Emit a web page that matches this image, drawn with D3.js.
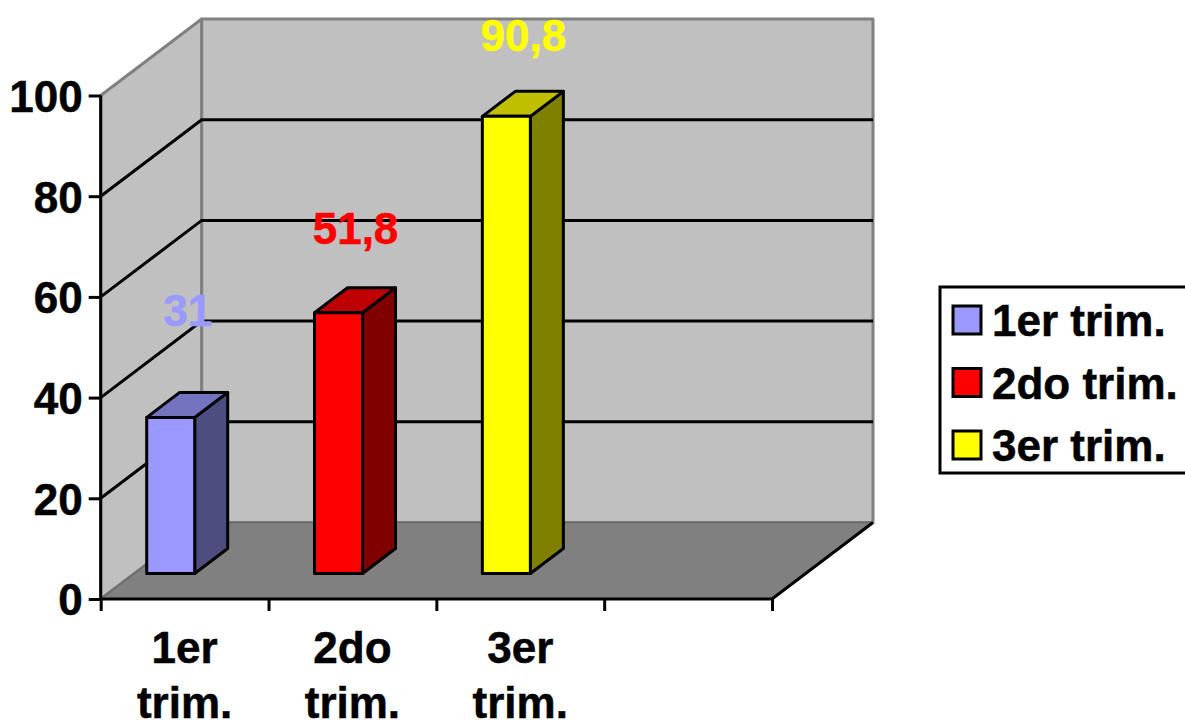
<!DOCTYPE html>
<html>
<head>
<meta charset="utf-8">
<script src="https://cdn.jsdelivr.net/npm/d3@7"></script>
<style>
  html, body { margin: 0; padding: 0; background: #fff; overflow: hidden; }
  text { font-family: "Liberation Sans", Arial, sans-serif; font-weight: bold; font-size: 44px; stroke-width: 0.5px; }
  .axis path { display: none; }
  .axis line { stroke: #000; stroke-width: 3px; }
</style>
</head>
<body>
<svg id="chart" width="1185" height="722"></svg>
<script>
// data
var categories = ['1er trim.', '2do trim.', '3er trim.'];
var values = [31, 51.8, 90.8];
var valueLabels = ['31', '51,8', '90,8'];
var yTicks = [0, 20, 40, 60, 80, 100];

var colors = ['#9999ff', '#ff0000', '#ffff00'];
var topColors = ['#7373bf', '#bf0000', '#bfbf00'];
var sideColors = ['#4d4d80', '#800000', '#808000'];

// how far each value label sits above its bar, label placement only
var labelLift = [91, 69, 65];

// window.top is read-only, so no bare "top" here
var plotLeft = 100.7, plotRight = 772, plotBottom = 599, plotTop = 95.5;
var depthX = 101, depthY = -76.5;     // wall depth
var barDepthX = 33, barDepthY = -25;  // bar depth
var barBase = 25.5;                   // bars stand this far back on the floor

var svg = d3.select('#chart');

var y = d3.scaleLinear().domain([0, 100]).range([plotBottom, plotTop]);
var xEdge = d3.scaleLinear().domain([0, 4]).range([plotLeft, plotRight]);
var x = d3.scaleBand().domain(d3.range(4)).range([plotLeft, plotRight]).paddingInner(0).paddingOuter(0);

function poly(points, fill, stroke, width) {
  return svg.append('polygon')
    .attr('points', points.map(function(p) { return p.join(','); }).join(' '))
    .attr('fill', fill)
    .attr('stroke', stroke || 'none')
    .attr('stroke-width', width || 0)
    .attr('stroke-linejoin', 'round');
}

// walls and floor
poly([[plotLeft, y(0)], [plotLeft + depthX, y(0) + depthY], [plotLeft + depthX, y(100) + depthY], [plotLeft, y(100)]], '#c0c0c0', '#808080', 3);
poly([[plotLeft + depthX, y(0) + depthY], [plotRight + depthX, y(0) + depthY], [plotRight + depthX, y(100) + depthY], [plotLeft + depthX, y(100) + depthY]], '#c0c0c0', '#808080', 3);
poly([[plotLeft, y(0)], [plotRight, y(0)], [plotRight + depthX, y(0) + depthY], [plotLeft + depthX, y(0) + depthY]], '#808080', '#6e6e6e', 2);

// gridlines on both walls
var grid = svg.append('g').attr('fill', 'none').attr('stroke', '#000').attr('stroke-width', 3);
yTicks.filter(function(d) { return d > 0 && d < 100; }).forEach(function(d) {
  grid.append('polyline').attr('points', [
    [plotLeft, y(d)], [plotLeft + depthX, y(d) + depthY], [plotRight + depthX, y(d) + depthY]
  ].join(' '));
});

// bars
values.forEach(function(v, i) {
  var x0 = x(i) + 46, x1 = x0 + 48;
  var y0 = y(0) - barBase, y1 = y(v) - barBase;
  var dx = barDepthX, dy = barDepthY;
  poly([[x1, y0], [x1 + dx, y0 + dy], [x1 + dx, y1 + dy], [x1, y1]], sideColors[i], '#000', 3);
  poly([[x0, y1], [x1, y1], [x1 + dx, y1 + dy], [x0 + dx, y1 + dy]], topColors[i], '#000', 3);
  poly([[x0, y0], [x1, y0], [x1, y1], [x0, y1]], colors[i], '#000', 3);
  svg.append('text')
    .attr('x', x0 + 41)
    .attr('y', y1 - labelLift[i])
    .attr('text-anchor', 'middle')
    .attr('fill', colors[i])
    .text(valueLabels[i]);
});

// axes
var yAxis = d3.axisLeft(y).tickValues(yTicks).tickSize(12).tickPadding(6).tickFormat(d3.format('d'));
var gy = svg.append('g').attr('class', 'axis').attr('transform', 'translate(' + plotLeft + ',0)').call(yAxis);
gy.selectAll('text').attr('fill', '#000').attr('dy', '0.36em').style('font-size', '44px');

var xAxis = d3.axisBottom(xEdge).ticks(4).tickSize(12).tickFormat('');
svg.append('g').attr('class', 'axis').attr('transform', 'translate(0,' + plotBottom + ')').call(xAxis);

var frame = svg.append('g').attr('fill', 'none').attr('stroke', '#000').attr('stroke-width', 3);
frame.append('line').attr('x1', plotLeft).attr('x2', plotLeft).attr('y1', y(100)).attr('y2', y(0));
frame.append('polyline').attr('points', [
  [plotLeft, y(0)], [plotRight, y(0)], [plotRight + depthX, y(0) + depthY]
].join(' '));

// category labels wrap on two lines
categories.forEach(function(c, i) {
  var t = svg.append('text')
    .attr('x', x(i) + x.bandwidth() / 2)
    .attr('y', 663)
    .attr('fill', '#000')
    .attr('text-anchor', 'middle');
  c.split(' ').forEach(function(w, j) {
    t.append('tspan').attr('x', x(i) + x.bandwidth() / 2).attr('dy', j ? 54.5 : 0).text(w);
  });
});

// legend
svg.append('rect').attr('x', 940).attr('y', 287).attr('width', 260).attr('height', 186)
  .attr('fill', '#fff').attr('stroke', '#000').attr('stroke-width', 3);
var legend = svg.selectAll('g.legend').data(categories).enter().append('g')
  .attr('class', 'legend')
  .attr('transform', function(d, i) { return 'translate(953,' + (306 + i * 62.5) + ')'; });
legend.append('rect').attr('width', 28).attr('height', 28)
  .attr('fill', function(d, i) { return colors[i]; })
  .attr('stroke', '#000').attr('stroke-width', 3);
legend.append('text').attr('x', 39).attr('y', 30).attr('fill', '#000').text(function(d) { return d; });

// the glyphs in the picture are a bit heavier than plain bold
svg.selectAll('text').attr('stroke', function() { return d3.select(this).attr('fill'); });
</script>
</body>
</html>
